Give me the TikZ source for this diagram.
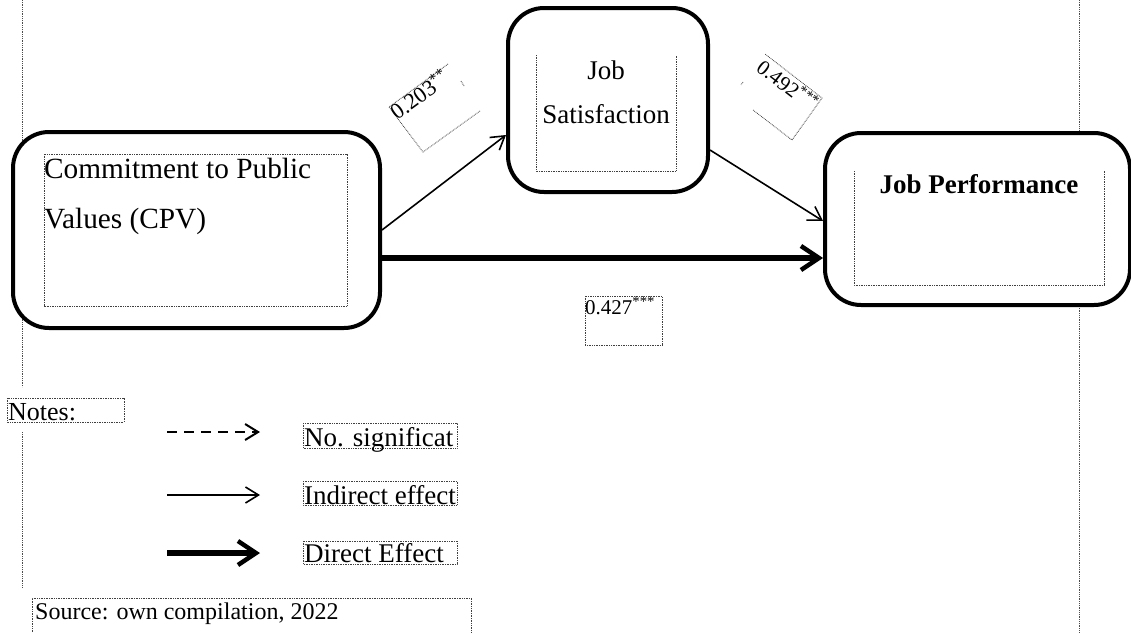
\documentclass[tikz,border=0pt]{standalone}
\usepackage{fontspec}
\setmainfont{Liberation Serif}
\usetikzlibrary{arrows.meta}
\begin{document}
\begin{tikzpicture}[x=1pt,y=-1pt,
  outerbox/.style={draw=black,line width=4pt,rounded corners=36pt,fill=white,inner sep=0pt},
  dotbox/.style={draw=black!75,line width=0.8pt,dash pattern=on 0.8pt off 0.9pt},
  guide/.style={draw=black!70,line width=0.9pt,dash pattern=on 0.9pt off 0.9pt},
  lbl/.style={inner sep=0pt,font=\fontsize{27}{32}\selectfont},
  big/.style={inner sep=0pt,font=\fontsize{29.3}{34}\selectfont},
  small/.style={inner sep=0pt,font=\fontsize{21}{25}\selectfont},
  tilted/.style={inner sep=0pt,font=\fontsize{22.5}{27}\selectfont},
  thinarrow/.style={line width=1.6pt,-{Straight Barb[length=13pt,width=16pt,line width=1.6pt]}},
  thickarrow/.style={line width=5.5pt,-{Straight Barb[length=18pt,width=24pt,line width=4.5pt]}},
  dasharrow/.style={line width=2.2pt,dash pattern=on 10pt off 7pt,-{Straight Barb[length=13pt,width=16pt,line width=2pt]}}]
\useasboundingbox (0,0) rectangle (1131,632);

% page guide lines
\draw[guide] (22,0) -- (22,387);
\draw[guide] (22,432) -- (22,587);
\draw[guide] (1079,0) -- (1079,632);

% main boxes
\node[outerbox,minimum width=367pt,minimum height=196pt] (cpv) at (196.5,230) {};
\node[outerbox,minimum width=200pt,minimum height=184pt] (js) at (608,100) {};
\node[outerbox,minimum width=305pt,minimum height=172pt] (jp) at (977.5,219) {};

% inner text frames
\draw[dotbox] (44,154) rectangle (347,306);
\draw[dotbox] (536,55) -- (536,171) -- (676,171) -- (676,55);
\draw[dotbox] (854,171) -- (854,285) -- (1104,285) -- (1104,171);

% box texts
\node[big,anchor=base west] (cpvA) at (44,178) {Commitment to Public};
\node[big,anchor=base west] (cpvB) at (44,228) {Values (CPV)};
\node[lbl,anchor=base] (jsA) at (606,79) {Job};
\node[lbl,anchor=base] (jsB) at (606,123) {Satisfaction};
\node[lbl,anchor=base] (jpA) at (979,193) {\bfseries Job Performance};

% paths
\draw[thinarrow] (cpv.east) -- ([yshift=-35pt]js.west);
\draw[thinarrow] ([yshift=-50pt]js.east) -- ([yshift=-2pt]jp.west);
\draw[thickarrow] ([yshift=-28pt]cpv.east) -- ([yshift=-28pt]cpv.east -| jp.west);

% coefficient labels
\draw[dotbox] (448,64) -- (389,107) -- (423,152) -- (480,111);
\draw[dotbox] (461,81) -- (464,86);
\node[tilted,anchor=base west,rotate=36] (c1) at (397,121) {0.203\textsuperscript{**}};

\draw[dotbox] (753,110) -- (792,140) -- (822,98) -- (765,54);
\draw[dotbox] (743,82) -- (741,85);
\node[small,anchor=base west,rotate=-37.5] (c2) at (755,70) {0.492\textsuperscript{***}};

\draw[dotbox] (585,296) rectangle (662,345);
\node[small,anchor=base west] (c3) at (585,314) {0.427\textsuperscript{***}};

% legend
\draw[dotbox] (7,398) rectangle (124,422);
\node[lbl,anchor=base west,font=\fontsize{26}{30}\selectfont] (notes) at (8,420) {Notes:};

\coordinate (d1) at (167,432); \coordinate (d2) at (260,432);
\coordinate (t1) at (167,495); \coordinate (t2) at (260,495);
\coordinate (k1) at (167,553); \coordinate (k2) at (260,553);
\draw[dasharrow] (d1) -- (d2);
\draw[thinarrow] (t1) -- (t2);
\draw[thickarrow] (k1) -- (k2);

\draw[dotbox] (303,423) rectangle (457,448);
\node[lbl,anchor=base west] (ns) at (304,446) {No. significat};
\draw[dotbox] (303,481) rectangle (457,505);
\node[lbl,anchor=base west] (ie) at (304,504) {Indirect effect};
\draw[dotbox] (303,541) rectangle (457,564);
\node[lbl,anchor=base west] (de) at (304,562) {Direct Effect};

\draw[dotbox] (32,632) -- (32,598) -- (471,598) -- (471,632);
\node[lbl,anchor=base west,font=\fontsize{24}{28}\selectfont] (src) at (35,619) {Source: own compilation, 2022};
\end{tikzpicture}
\end{document}
